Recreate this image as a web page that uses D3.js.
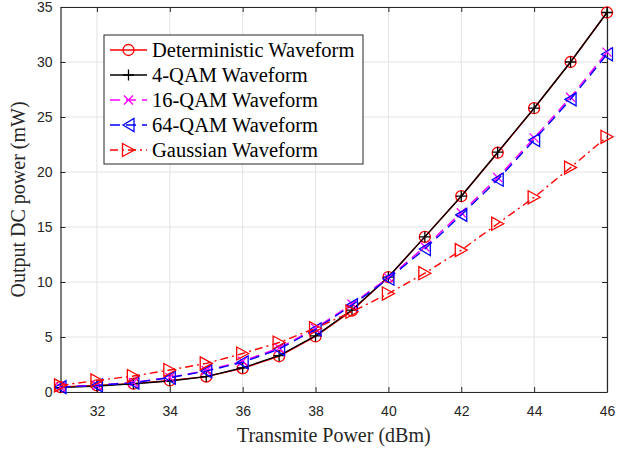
<!DOCTYPE html>
<html>
<head>
<meta charset="utf-8">
<script src="https://cdn.jsdelivr.net/npm/d3@7"></script>
<style>
  body { margin: 0; background: #fff; }
  svg { display: block; }
</style>
</head>
<body>
<div id="chart"></div>
<script>
// data
const powers = [31, 32, 33, 34, 35, 36, 37, 38, 39, 40, 41, 42, 43, 44, 45, 46];
const deterministic = [0.45, 0.6, 0.76, 1.05, 1.4, 2.15, 3.25, 5.05, 7.4, 10.45, 14.1, 17.8, 21.75, 25.8, 30.0, 34.5];
const qam4 = [0.4, 0.55, 0.75, 1.0, 1.4, 2.2, 3.3, 5.1, 7.45, 10.45, 14.1, 17.8, 21.8, 25.8, 30.0, 34.5];
const qam16 = [0.45, 0.62, 0.87, 1.33, 1.95, 2.8, 4.0, 5.8, 8.0, 10.4, 13.2, 16.3, 19.5, 23.1, 26.8, 30.9];
const qam64 = [0.45, 0.6, 0.85, 1.3, 1.9, 2.7, 3.9, 5.7, 7.9, 10.3, 13.0, 16.1, 19.3, 22.9, 26.6, 30.7];
const gaussian = [0.6, 1.05, 1.45, 2.0, 2.6, 3.5, 4.5, 5.8, 7.3, 8.95, 10.8, 12.9, 15.3, 17.7, 20.4, 23.2];
const xTicks = [32, 34, 36, 38, 40, 42, 44, 46];
const yTicks = [0, 5, 10, 15, 20, 25, 30, 35];

const series = [
  {name: "Deterministic Waveform", values: deterministic, color: "#ff0000", dash: null, marker: "circle"},
  {name: "4-QAM Waveform", values: qam4, color: "#000000", dash: null, marker: "plus"},
  {name: "16-QAM Waveform", values: qam16, color: "#ff00ff", dash: "10,6", marker: "cross"},
  {name: "64-QAM Waveform", values: qam64, color: "#0000ff", dash: "10,6", marker: "triLeft"},
  {name: "Gaussian Waveform", values: gaussian, color: "#ff0000", dash: "8,4,2,4", marker: "triRight"}
];

// set the dimensions and margins of the graph
const W = 618, H = 451;
const margin = {top: 7, right: 11, bottom: 59, left: 60.5};
const width = W - margin.left - margin.right,
    height = H - margin.top - margin.bottom;

const x = d3.scaleLinear().domain([31, 46]).range([0, width]);
const y = d3.scaleLinear().domain([0, 35]).range([height, 0]);

const svg = d3.select("#chart").append("svg")
  .attr("width", W).attr("height", H);

const plot = svg.append("g")
  .attr("transform", "translate(" + margin.left + "," + margin.top + ")");

// grid
plot.append("g").selectAll("line").data(xTicks).join("line")
  .attr("x1", d => x(d)).attr("x2", d => x(d))
  .attr("y1", 0).attr("y2", height)
  .attr("stroke", "#e3e3e3").attr("stroke-width", 1);
plot.append("g").selectAll("line").data(yTicks).join("line")
  .attr("x1", 0).attr("x2", width)
  .attr("y1", d => y(d)).attr("y2", d => y(d))
  .attr("stroke", "#e3e3e3").attr("stroke-width", 1);

// axes (inward ticks, box on all sides)
const axisColor = "#262626";
function styleAxis(g) {
  g.select(".domain").attr("stroke", axisColor).attr("stroke-width", 1.2);
  g.selectAll(".tick line").attr("stroke", axisColor);
  g.selectAll(".tick text").attr("fill", axisColor)
    .style("font-family", "'Liberation Sans', Arial, sans-serif").style("font-size", "14px");
}
plot.append("g").attr("transform", "translate(0," + height + ")")
  .call(d3.axisBottom(x).tickValues(xTicks).tickSizeInner(-5).tickSizeOuter(0).tickPadding(14))
  .call(styleAxis);
plot.append("g")
  .call(d3.axisLeft(y).tickValues(yTicks).tickSizeInner(-5).tickSizeOuter(0).tickPadding(8))
  .call(styleAxis);
plot.append("g")
  .call(d3.axisTop(x).tickValues(xTicks).tickSizeInner(-5).tickSizeOuter(0).tickFormat(""))
  .call(styleAxis);
plot.append("g").attr("transform", "translate(" + width + ",0)")
  .call(d3.axisRight(y).tickValues(yTicks).tickSizeInner(-5).tickSizeOuter(0).tickFormat(""))
  .call(styleAxis);

// markers
function drawMarker(g, type, color) {
  if (type === "circle") {
    g.append("circle").attr("r", 5.5).attr("fill", "none").attr("stroke", color).attr("stroke-width", 1.3);
  } else if (type === "plus") {
    g.append("path").attr("d", "M-5.5,0H5.5M0,-5.5V5.5").attr("stroke", color).attr("stroke-width", 1.3);
  } else if (type === "cross") {
    g.append("path").attr("d", "M-4.5,-4.5L4.5,4.5M-4.5,4.5L4.5,-4.5").attr("stroke", color).attr("stroke-width", 1.3);
  } else if (type === "triLeft") {
    g.append("path").attr("d", "M-5.5,0L5.5,-6.5L5.5,6.5Z").attr("fill", "none").attr("stroke", color).attr("stroke-width", 1.3);
  } else if (type === "triRight") {
    g.append("path").attr("d", "M6,0L-6,-6.5L-6,6.5Z").attr("fill", "none").attr("stroke", color).attr("stroke-width", 1.3);
  }
}

const line = d3.line()
  .x((d, i) => x(powers[i]))
  .y(d => y(d));

series.forEach(function(s) {
  const g = plot.append("g");
  g.append("path")
    .attr("d", line(s.values))
    .attr("fill", "none")
    .attr("stroke", s.color)
    .attr("stroke-width", 1.4)
    .attr("stroke-dasharray", s.dash);
  s.values.forEach(function(v, i) {
    const m = g.append("g").attr("transform", "translate(" + x(powers[i]) + "," + y(v) + ")");
    drawMarker(m, s.marker, s.color);
  });
});

// axis labels
const serif = "'Liberation Serif', 'Times New Roman', serif";
svg.append("text")
  .attr("x", margin.left + width / 2).attr("y", 442)
  .attr("text-anchor", "middle")
  .style("font-family", serif).style("font-size", "20px").attr("fill", axisColor)
  .text("Transmite Power (dBm)");
svg.append("text")
  .attr("transform", "translate(25," + (margin.top + height / 2) + ") rotate(-90)")
  .attr("text-anchor", "middle")
  .style("font-family", serif).style("font-size", "20px").attr("fill", axisColor)
  .text("Output DC power (mW)");

// legend
const legend = svg.append("g").attr("transform", "translate(104,35)");
legend.append("rect")
  .attr("width", 259).attr("height", 129)
  .attr("fill", "#fff").attr("stroke", axisColor).attr("stroke-width", 1);
series.forEach(function(s, i) {
  const row = legend.append("g").attr("transform", "translate(0," + (15 + i * 25) + ")");
  row.append("line")
    .attr("x1", 6).attr("x2", 43).attr("y1", 0).attr("y2", 0)
    .attr("stroke", s.color).attr("stroke-width", 1.4)
    .attr("stroke-dasharray", s.dash);
  const m = row.append("g").attr("transform", "translate(24.5,0)");
  drawMarker(m, s.marker, s.color);
  row.append("text")
    .attr("x", 48).attr("y", 7)
    .style("font-family", serif).style("font-size", "20.5px").attr("fill", "#000")
    .text(s.name);
});
</script>
</body>
</html>
